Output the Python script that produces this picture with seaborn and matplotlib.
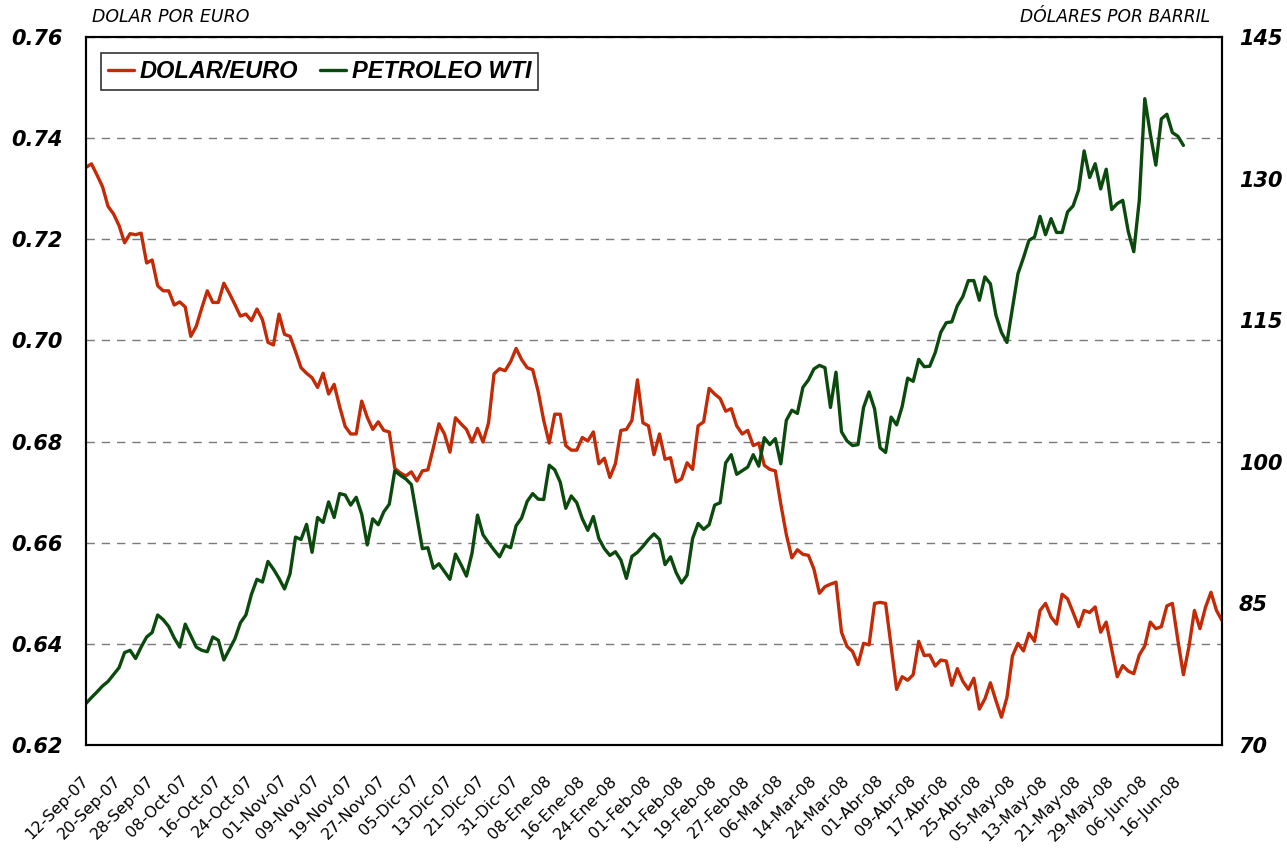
import numpy as np
import pandas as pd
import matplotlib
matplotlib.use("Agg")
import matplotlib.pyplot as plt
import seaborn as sns

# Dolar por euro, un valor por dia habil desde el 12-Sep-07 hasta el 26-Jun-08
dolar_euro = [
    0.7342, 0.7349, 0.7327, 0.7304, 0.7265, 0.7250, 0.7227, 0.7193, 0.7211, 0.7209,
    0.7212, 0.7153, 0.7159, 0.7108, 0.7098, 0.7098, 0.7070, 0.7076, 0.7066, 0.7008,
    0.7028, 0.7064, 0.7098, 0.7075, 0.7075, 0.7113, 0.7093, 0.7071, 0.7048, 0.7052,
    0.7039, 0.7062, 0.7041, 0.6996, 0.6991, 0.7052, 0.7012, 0.7008, 0.6978, 0.6946,
    0.6935, 0.6926, 0.6907, 0.6935, 0.6894, 0.6913, 0.6869, 0.6830, 0.6815, 0.6815,
    0.6880, 0.6848, 0.6824, 0.6839, 0.6822, 0.6819, 0.6747, 0.6738, 0.6732, 0.6740,
    0.6722, 0.6742, 0.6744, 0.6788, 0.6835, 0.6815, 0.6779, 0.6847, 0.6835, 0.6824,
    0.6799, 0.6826, 0.6799, 0.6837, 0.6934, 0.6944, 0.6940, 0.6958, 0.6984, 0.6962,
    0.6946, 0.6942, 0.6899, 0.6842, 0.6797, 0.6854, 0.6854, 0.6792, 0.6783, 0.6783,
    0.6808, 0.6801, 0.6819, 0.6756, 0.6767, 0.6729, 0.6756, 0.6822, 0.6824, 0.6842,
    0.6922, 0.6837, 0.6831, 0.6774, 0.6815, 0.6765, 0.6768, 0.6720, 0.6726, 0.6758,
    0.6745, 0.6831, 0.6839, 0.6905, 0.6894, 0.6885, 0.6860, 0.6865, 0.6831, 0.6815,
    0.6822, 0.6792, 0.6797, 0.6753, 0.6745, 0.6742, 0.6676, 0.6616, 0.6570, 0.6586,
    0.6577, 0.6575, 0.6548, 0.6500, 0.6513, 0.6518, 0.6522, 0.6423, 0.6395, 0.6385,
    0.6359, 0.6401, 0.6398, 0.6480, 0.6482, 0.6480, 0.6395, 0.6310, 0.6335, 0.6328,
    0.6339, 0.6405, 0.6377, 0.6378, 0.6356, 0.6368, 0.6366, 0.6318, 0.6351, 0.6326,
    0.6310, 0.6332, 0.6271, 0.6291, 0.6323, 0.6288, 0.6255, 0.6294, 0.6376, 0.6401,
    0.6386, 0.6421, 0.6405, 0.6466, 0.6480, 0.6453, 0.6439, 0.6498, 0.6489, 0.6462,
    0.6434, 0.6466, 0.6462, 0.6473, 0.6423, 0.6443, 0.6389, 0.6335, 0.6357, 0.6346,
    0.6341, 0.6378, 0.6396, 0.6443, 0.6430, 0.6434, 0.6475, 0.6480, 0.6407, 0.6339,
    0.6394, 0.6466, 0.6430, 0.6472, 0.6502, 0.6466, 0.6446,
]

# Petroleo WTI en dolares por barril (la serie llega hasta el 17-Jun-08)
petroleo_wti = [
    74.40, 75.03, 75.62, 76.25, 76.73, 77.46, 78.19, 79.79, 80.03, 79.16,
    80.37, 81.44, 81.92, 83.77, 83.28, 82.55, 81.34, 80.37, 82.80, 81.58,
    80.37, 80.03, 79.88, 81.44, 81.10, 79.01, 80.13, 81.24, 82.94, 83.77,
    85.95, 87.55, 87.26, 89.44, 88.62, 87.65, 86.53, 88.13, 92.02, 91.77,
    93.37, 90.41, 94.10, 93.57, 95.75, 94.10, 96.63, 96.48, 95.41, 96.24,
    94.44, 91.19, 93.96, 93.33, 94.69, 95.51, 99.05, 98.57, 98.18, 97.59,
    94.20, 90.80, 90.90, 88.72, 89.20, 88.38, 87.55, 90.22, 89.11, 87.89,
    90.32, 94.35, 92.26, 91.43, 90.66, 89.93, 91.14, 90.90, 93.23, 94.05,
    95.80, 96.63, 96.04, 96.00, 99.64, 99.15, 97.84, 95.07, 96.38, 95.66,
    93.96, 92.74, 94.20, 91.87, 90.80, 90.08, 90.47, 89.59, 87.65, 89.98,
    90.41, 91.05, 91.77, 92.36, 91.77, 89.11, 89.93, 88.28, 87.16, 87.99,
    91.87, 93.47, 92.84, 93.33, 95.41, 95.66, 99.88, 100.75, 98.67, 99.05,
    99.44, 100.75, 99.54, 102.55, 101.82, 102.45, 99.78, 104.39, 105.46, 105.12,
    107.88, 108.66, 109.83, 110.21, 109.97, 105.75, 109.49, 103.18, 102.21, 101.72,
    101.82, 105.75, 107.40, 105.60, 101.48, 100.99, 104.73, 103.91, 105.85, 108.86,
    108.52, 110.85, 110.07, 110.12, 111.57, 113.71, 114.73, 114.82, 116.52, 117.49,
    119.19, 119.19, 117.11, 119.58, 118.85, 115.55, 113.71, 112.64, 116.28, 119.92,
    121.62, 123.46, 123.80, 125.99, 124.05, 125.75, 124.29, 124.29, 126.47, 127.10,
    128.80, 132.93, 130.11, 131.57, 128.90, 130.99, 126.72, 127.35, 127.69, 124.39,
    122.25, 127.69, 138.46, 134.72, 131.42, 136.32, 136.81, 134.87, 134.48, 133.51,
]

# eje de categorias: dias habiles, etiqueta cada 6 dias
fechas = pd.bdate_range("2007-09-12", "2008-06-26")
meses = ["Ene", "Feb", "Mar", "Abr", "May", "Jun", "Jul", "Ago", "Sep", "Oct", "Nov", "Dic"]
etiquetas = [f"{d.day:02d}-{meses[d.month - 1]}-{d.strftime('%y')}" for d in fechas]
pos_ticks = list(range(0, 199, 6))

ticks_izq = [0.62, 0.64, 0.66, 0.68, 0.70, 0.72, 0.74, 0.76]
ticks_der = [70, 85, 100, 115, 130, 145]

ROJO = "#C42A06"
VERDE = "#0A4A0C"

df_eur = pd.DataFrame({"pos": range(len(dolar_euro)), "valor": dolar_euro})
df_wti = pd.DataFrame({"pos": range(len(petroleo_wti)), "valor": petroleo_wti})

sns.set_style("white")
plt.rcParams["font.family"] = ["DejaVu Sans"]
plt.rcParams["text.color"] = "black"
plt.rcParams["xtick.color"] = "black"
plt.rcParams["ytick.color"] = "black"

fig = plt.figure(figsize=(12.87, 8.49), dpi=100)
ax = fig.add_axes([0.0668, 0.1225, 0.8827, 0.834])
ax2 = ax.twinx()

sns.lineplot(data=df_eur, x="pos", y="valor", ax=ax, color=ROJO, linewidth=2.4,
             label="DOLAR/EURO", legend=False)
sns.lineplot(data=df_wti, x="pos", y="valor", ax=ax2, color=VERDE, linewidth=2.4,
             label="PETROLEO WTI", legend=False)

ax.set_xlim(0, len(dolar_euro) - 1)
ax.set_ylim(0.62, 0.76)
ax2.set_ylim(70, 145)

ax.set_yticks(ticks_izq)
ax.set_yticklabels([f"{t:.2f}" for t in ticks_izq], fontsize=15, fontstyle="italic",
                   fontweight="bold", color="black")
ax2.set_yticks(ticks_der)
ax2.set_yticklabels([str(t) for t in ticks_der], fontsize=15, fontstyle="italic",
                    fontweight="bold", color="black")

ax.set_xticks(pos_ticks)
ax.set_xticklabels([etiquetas[i] for i in pos_ticks], rotation=45, ha="right", va="center",
                   rotation_mode="anchor", fontsize=11.5, color="black")

ax.tick_params(axis="x", length=0, pad=24)
ax.tick_params(axis="y", length=0, pad=17)
ax2.tick_params(axis="y", length=0, pad=12)
ax.set_xlabel("")
ax.set_ylabel("")
ax2.set_ylabel("")

ax.grid(False)
ax2.grid(False)
ax.yaxis.grid(True, linestyle=(0, (6, 5)), color="#7a7a7a", linewidth=1.0)

for a in (ax, ax2):
    for sp in a.spines.values():
        sp.set_color("black")
        sp.set_linewidth(1.5)

handles = [ax.get_lines()[0], ax2.get_lines()[0]]
leg = ax2.legend(handles, ["DOLAR/EURO", "PETROLEO WTI"], loc="upper left",
                 bbox_to_anchor=(0.0132, 0.977), ncol=2, frameon=True, fancybox=False,
                 edgecolor="black", handlelength=1.1, handletextpad=0.25, columnspacing=0.9,
                 borderpad=0.3, borderaxespad=0, labelcolor="black",
                 prop={"family": "Liberation Sans", "weight": "bold", "style": "italic", "size": 17})
leg.get_frame().set_linewidth(1.2)

fig.text(92 / 1287, 1 - 17 / 849, "DOLAR POR EURO", fontsize=12.5, fontstyle="italic",
         ha="left", va="center", color="black")
fig.text(1210 / 1287, 1 - 17 / 849, "DÓLARES POR BARRIL", fontsize=12.3, fontstyle="italic",
         ha="right", va="center", color="black")

fig.savefig("out.png", dpi=100)
